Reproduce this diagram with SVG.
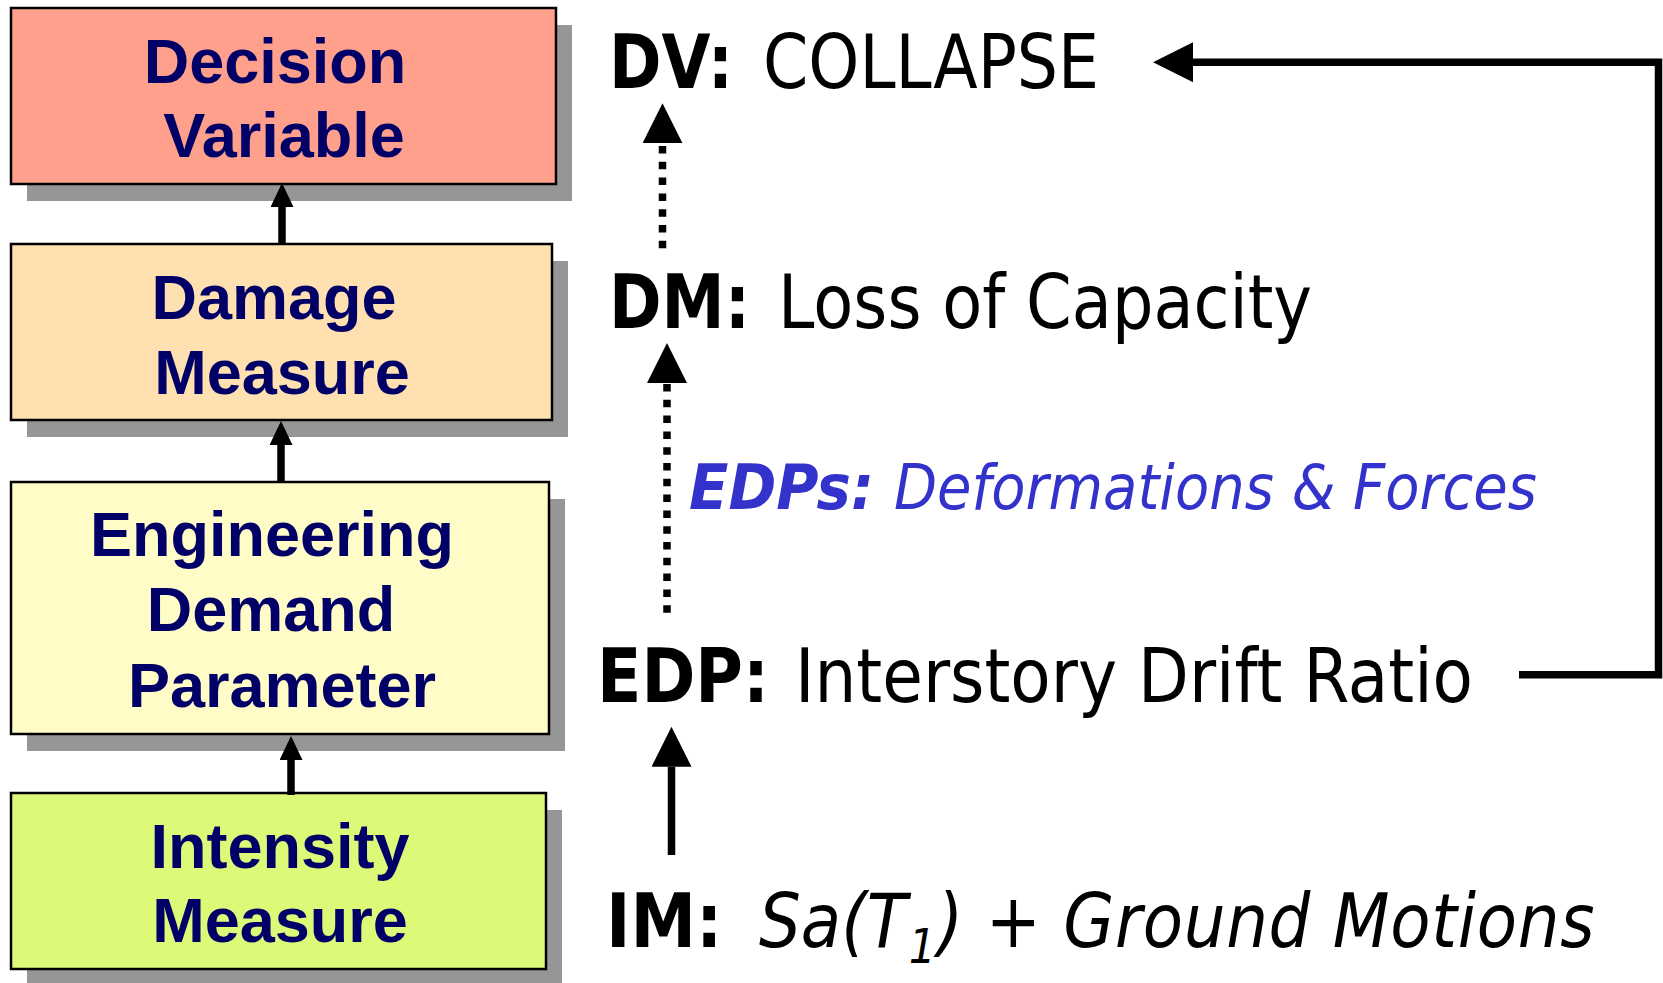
<svg xmlns="http://www.w3.org/2000/svg" width="1663" height="983" viewBox="0 0 1663 983">
<style>
.shadow{fill:#969696}
.box{stroke:#000;stroke-width:2.5}
.lt{font-family:"Liberation Sans",Arial,sans-serif;font-weight:bold;font-size:63px;fill:#000066;text-anchor:middle}
.rt{font-family:"DejaVu Sans",Verdana,sans-serif;font-size:74px;fill:#000}
.b{font-weight:bold}
.i{font-style:italic}
.blue{fill:#3333cc;font-size:63px}
.conn{fill:none;stroke:#000;stroke-width:7.5}
.dash{stroke-dasharray:7.5 8.3}
</style>
<defs>
<marker id="big" viewBox="0 0 40 40" refX="0" refY="20" markerWidth="40" markerHeight="40" markerUnits="userSpaceOnUse" orient="auto">
<path d="M0,0 L40,20 L0,40 z" fill="#000"/>
</marker>
<marker id="small" viewBox="0 0 24 23" refX="0" refY="11.5" markerWidth="24" markerHeight="23" markerUnits="userSpaceOnUse" orient="auto">
<path d="M0,0 L24,11.5 L0,23 z" fill="#000"/>
</marker>
</defs>
<rect width="1663" height="983" fill="#fff"/>

<g id="node-dv">
<rect class="shadow" x="27" y="25" width="545" height="176"/>
<rect class="box" x="11" y="8" width="545" height="176" fill="#ffa08c"/>
<text class="lt" x="275" y="83">Decision</text>
<text class="lt" x="284" y="157">Variable</text>
</g>
<g id="node-dm">
<rect class="shadow" x="27" y="261" width="541" height="176"/>
<rect class="box" x="11" y="244" width="541" height="176" fill="#ffe0b0"/>
<text class="lt" x="274" y="319">Damage</text>
<text class="lt" x="282" y="394">Measure</text>
</g>
<g id="node-edp">
<rect class="shadow" x="27" y="499" width="538" height="252"/>
<rect class="box" x="11" y="482" width="538" height="252" fill="#fffcc8"/>
<text class="lt" x="272" y="556">Engineering</text>
<text class="lt" x="271" y="631">Demand</text>
<text class="lt" x="282" y="707">Parameter</text>
</g>
<g id="node-im">
<rect class="shadow" x="27" y="810" width="535" height="176"/>
<rect class="box" x="11" y="793" width="535" height="176" fill="#dcfa78"/>
<text class="lt" x="280" y="868">Intensity</text>
<text class="lt" x="280" y="942">Measure</text>
</g>

<g id="label-dv">
<text class="rt b" x="609" y="88" textLength="124" lengthAdjust="spacingAndGlyphs">DV:</text>
<text class="rt" x="763" y="88" textLength="336" lengthAdjust="spacingAndGlyphs">COLLAPSE</text>
</g>
<g id="label-dm">
<text class="rt b" x="609" y="328" textLength="141" lengthAdjust="spacingAndGlyphs">DM:</text>
<text class="rt" x="778" y="328" textLength="534" lengthAdjust="spacingAndGlyphs">Loss of Capacity</text>
</g>
<g id="label-edps">
<text class="rt b i blue" x="689" y="509" textLength="185" lengthAdjust="spacingAndGlyphs">EDPs:</text>
<text class="rt i blue" x="894" y="509" textLength="643" lengthAdjust="spacingAndGlyphs">Deformations &amp; Forces</text>
</g>
<g id="label-edp">
<text class="rt b" x="597" y="702" textLength="172" lengthAdjust="spacingAndGlyphs">EDP:</text>
<text class="rt" x="795" y="702" textLength="678" lengthAdjust="spacingAndGlyphs">Interstory Drift Ratio</text>
</g>
<g id="label-im">
<text class="rt" transform="translate(0,947) scale(0.89,1)"><tspan class="b" x="680.9" y="0">IM:</tspan><tspan class="i" x="852.8" y="0">Sa(T</tspan><tspan class="i" x="1021" y="16" font-size="48">1</tspan><tspan class="i" x="1053.5" y="0" letter-spacing="0.8">) + Ground Motions</tspan></text>
</g>

<g id="connectors">
<path class="conn" d="M282,245 V207" marker-end="url(#small)"/>
<path class="conn" d="M281,481 V445" marker-end="url(#small)"/>
<path class="conn" d="M291,795 V760" marker-end="url(#small)"/>
<path class="conn dash" d="M662.5,248.3 V143.3" marker-end="url(#big)"/>
<path class="conn dash" d="M667,612.7 V383" marker-end="url(#big)"/>
<path class="conn" d="M671.5,855 V766.7" marker-end="url(#big)"/>
<path class="conn" d="M1519,674.7 H1658.5 V62.2 H1193" marker-end="url(#big)"/>
</g>
</svg>
